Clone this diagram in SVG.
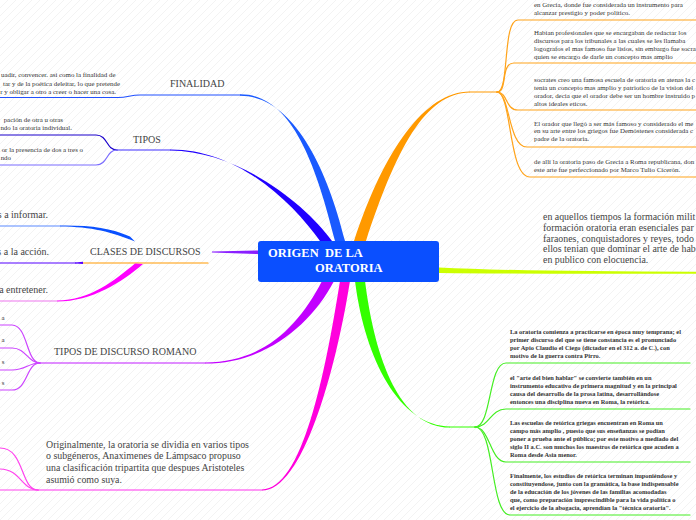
<svg xmlns="http://www.w3.org/2000/svg" width="696" height="520" viewBox="0 0 696 520">
<defs>
<pattern id="stripes" patternUnits="userSpaceOnUse" width="8" height="8">
<path d="M-1,1 L1,-1 M0,8 L8,0 M7,9 L9,7" stroke="#eeeeee" stroke-width="0.7"/>
</pattern>
<style>
.lbl{font-family:"Liberation Serif","Times New Roman",serif;font-size:10px;fill:#444;}
.big{font-family:"Liberation Serif","Times New Roman",serif;font-size:9.9px;fill:#444;}
.sm{font-family:"Liberation Serif","Times New Roman",serif;font-size:6.9px;fill:#333;}
.smb{font-family:"Liberation Serif","Times New Roman",serif;font-size:6.4px;fill:#333;font-weight:bold;}
.ctr{font-family:"Liberation Serif","Times New Roman",serif;font-size:12.5px;fill:#ffffff;font-weight:bold;white-space:pre;}
.ln{fill:none;stroke-width:1.2;stroke-linecap:round;}
</style>
</defs>
<rect width="696" height="520" fill="#ffffff"/>
<rect width="696" height="520" fill="url(#stripes)"/>

<g id="connectors">
<!-- FINALIDAD -->
<path d="M335,241 C315,160 290,94 240,94.3 L240,95.7 C290,96 325,160 345,241 Z" fill="#1a5aff"/>
<path class="ln" d="M240,95 L140,95 C130,95 128,97.5 118,97.5 L0,97.5" stroke="#2050ff" stroke-width="1.3"/>
<!-- TIPOS -->
<path d="M320,241 C294,205 240,149 170,149.4 L170,150.6 C240,151 306,205 332,241 Z" fill="#2000ff"/>
<path class="ln" d="M170,150 L117,150" stroke="#4030ff" stroke-width="1.3"/>
<path class="ln" d="M117,150 C106,150 108,135 96,135 L0,135" stroke="#1a00cc"/>
<path class="ln" d="M117,150 C106,150 108,165 96,165 L0,165" stroke="#7a6cff"/>
<!-- ORANGE -->
<path d="M354,241 C384,150 425,91.3 470,91.4 L470,92.6 C425,92.7 396,150 366,241 Z" fill="#ff9900"/>
<path class="ln" d="M470,92 L497,92" stroke="#ff9900" stroke-width="1.3"/>
<path class="ln" d="M497,92 C510,92 502,20 518,20 L696,20" stroke="#ffa31a"/>
<path class="ln" d="M497,92 C508,92 500,63 514,63 L696,63" stroke="#ffa31a"/>
<path class="ln" d="M497,92 C508,92 505,110 518,110 L696,110" stroke="#ffa31a"/>
<path class="ln" d="M497,92 C510,92 508,147 527,147 L696,147" stroke="#ffa31a"/>
<path class="ln" d="M497,92 C512,92 508,177 530,177 L696,177" stroke="#ffa31a"/>
<!-- YELLOW-GREEN -->
<path d="M439,267.5 Q520,271.5 696,271.8 L696,273.8 Q520,274 439,273 Z" fill="#ccff00"/>
<!-- CLASES DE DISCURSOS -->
<path d="M258,250.5 L212,251.6 L212,252.6 L258,254 Z" fill="#8a1fff"/>
<path class="ln" d="M83,263 L208,263" stroke="#ff9900"/>
<path d="M60,225.6 C90,225.2 110,228 130,236.5 L135,241.5 C112,232 92,226.6 60,226.4 Z" fill="#0a50ff"/>
<path class="ln" d="M60,226 L0,226" stroke="#5a8aff"/>
<path class="ln" d="M0,263 L76,263" stroke="#5500ff"/>
<path d="M75,262.4 L83,261.8 L83,264 L75,263.6 Z" fill="#5500ff"/>
<path d="M135,263.5 C115,280 90,300.5 57,300.5 L57,301.5 C92,301.5 122,282 143,264 Z" fill="#ff00ff"/>
<path class="ln" d="M57,301 L0,301" stroke="#ee77ee"/>
<!-- TIPOS DE DISCURSO ROMANO -->
<path d="M322,281 C299,325 265,362.3 205,362.4 L205,363.6 C265,363.7 311,325 334,281 Z" fill="#c200ff"/>
<path class="ln" d="M205,363 L40,363" stroke="#c21cff" stroke-width="1.3"/>
<path class="ln" d="M40,363 C26,363 28,325 12,325 L0,325" stroke="#cc44ff"/>
<path class="ln" d="M40,363 C28,363 26,348 12,348 L0,348" stroke="#cc44ff"/>
<path class="ln" d="M40,363 C28,363 26,370 12,370 L0,370" stroke="#cc44ff"/>
<path class="ln" d="M40,363 C26,363 28,390 12,390 L0,390" stroke="#cc44ff"/>
<!-- MAGENTA -->
<path d="M340,281 C325,375 302,489.3 262,489.4 L262,490.6 C302,490.7 335,375 350,281 Z" fill="#ff00dd"/>
<path class="ln" d="M262,490 L38,490" stroke="#ff33ee" stroke-width="1.3"/>
<path class="ln" d="M38,490 C20,490 25,448 0,448" stroke="#ff44ee"/>
<path class="ln" d="M38,490 C22,490 20,469 0,469" stroke="#ff44ee"/>
<path class="ln" d="M38,490 L0,490" stroke="#ff44ee"/>
<!-- GREEN -->
<path d="M355,281 C365,360 400,426.3 450,426.4 L450,427.6 C400,427.7 375,360 365,281 Z" fill="#33ff00"/>
<path class="ln" d="M450,427 L475,427" stroke="#33ff00" stroke-width="1.3"/>
<path class="ln" d="M475,427 C492,427 488,363 506,363 L690,363" stroke="#44ee22"/>
<path class="ln" d="M475,427 C490,427 490,409 506,409 L690,409" stroke="#44ee22"/>
<path class="ln" d="M475,427 C490,427 490,462 506,462 L690,462" stroke="#44ee22"/>
<path class="ln" d="M475,427 C495,427 490,515 510,515 L690,515" stroke="#44ee22"/>
</g>

<g id="central">
<rect x="258" y="241" width="181" height="41" rx="3" fill="#0a4fff"/>
<text class="ctr" x="268" y="257">ORIGEN  DE LA</text>
<text class="ctr" x="315" y="272">ORATORIA</text>
</g>

<g id="finalidad">
<text class="lbl" x="170" y="86.5">FINALIDAD</text>
</g>
<g id="finalidad-text">
<text class="sm" text-anchor="end" x="115.5" y="77">uadir, convencer. asi como la finalidad de</text>
<text class="sm" text-anchor="end" x="120" y="85.5">tar y de la poética deleitar, lo que pretende</text>
<text class="sm" text-anchor="end" x="116" y="94">r y obligar a otro a creer o hacer una cosa.</text>
</g>

<g id="tipos">
<text class="lbl" x="133" y="142.5">TIPOS</text>
</g>
<g id="tipos-1">
<text class="sm" text-anchor="end" x="63" y="121.5">pación de otra u otras</text>
<text class="sm" text-anchor="end" x="72" y="130">ndo la oratoria individual.</text>
</g>
<g id="tipos-2">
<text class="sm" text-anchor="end" x="83" y="151.5">or la presencia de dos a tres o</text>
<text class="sm" text-anchor="end" x="11" y="160">ndo</text>
</g>

<g id="clases">
<text class="lbl" x="90" y="255">CLASES DE DISCURSOS</text>
</g>
<g id="clases-1"><text class="lbl" text-anchor="end" x="48" y="217.5">s a informar.</text></g>
<g id="clases-2"><text class="lbl" text-anchor="end" x="49" y="255">s a la acción.</text></g>
<g id="clases-3"><text class="lbl" text-anchor="end" x="48" y="293">a entretener.</text></g>

<g id="romano">
<text class="lbl" x="54" y="355">TIPOS DE DISCURSO ROMANO</text>
</g>
<g id="romano-1"><text class="sm" text-anchor="end" x="4.5" y="320">a</text></g>
<g id="romano-2"><text class="sm" text-anchor="end" x="4.5" y="342">a</text></g>
<g id="romano-3"><text class="sm" text-anchor="end" x="4.5" y="364">s</text></g>
<g id="romano-4"><text class="sm" text-anchor="end" x="4.5" y="385">s</text></g>

<g id="original">
<text class="big" x="46" y="447.5">Originalmente, la oratoria se dividia en varios tipos</text>
<text class="big" x="46" y="459.2">o subgéneros, Anaximenes de Lámpsaco propuso</text>
<text class="big" x="46" y="470.9">una clasificación tripartita que despues Aristoteles</text>
<text class="big" x="46" y="482.6">asumió como suya.</text>
</g>

<g id="formacion">
<text class="big" x="543" y="220">en aquellos tiempos la formación milit</text>
<text class="big" x="543" y="230.8">formación oratoria eran esenciales par</text>
<text class="big" x="543" y="241.6">faraones, conquistadores y reyes, todo</text>
<text class="big" x="543" y="252.4">ellos tenian que dominar el arte de hab</text>
<text class="big" x="543" y="263.2">en publico con elocuencia.</text>
</g>

<g id="grecia-1">
<text class="sm" x="534" y="6.5">en Grecia, donde fue considerada un instrumento para</text>
<text class="sm" x="534" y="14.5">alcanzar prestigio y poder político.</text>
</g>
<g id="grecia-2">
<text class="sm" x="534" y="35">Habian profesionales que se encargaban de redactar los</text>
<text class="sm" x="534" y="43">discursos para los tribunales a las cuales se les llamaba</text>
<text class="sm" x="534" y="51">logografos el mas famoso fue lisios, sin embargo fue socra</text>
<text class="sm" x="534" y="59">quien se encargo de darle un concepto mas amplio</text>
</g>
<g id="grecia-3">
<text class="sm" x="534" y="82">socrates creo una famosa escuela de oratoria en atenas la c</text>
<text class="sm" x="534" y="90">tenia un concepto mas amplio y patriotico de la vision del</text>
<text class="sm" x="534" y="98">orador, decia que el orador debe ser un hombre instruido p</text>
<text class="sm" x="534" y="106">altos ideales eticos.</text>
</g>
<g id="grecia-4">
<text class="sm" x="534" y="125.5">El orador que llegó a ser más famoso y considerado el me</text>
<text class="sm" x="534" y="133.3">en su arte  entre los griegos fue Demóstenes considerada c</text>
<text class="sm" x="534" y="141">padre de la oratoria.</text>
</g>
<g id="grecia-5">
<text class="sm" x="534" y="163.5">de allí la oratoria paso de Grecia a  Roma republicana, don</text>
<text class="sm" x="534" y="171.5">este arte fue perfeccionado por Marco Tulio Cicerón.</text>
</g>

<g id="roma-1">
<text class="smb" x="510" y="334">La oratoria comienza a practicarse en época muy temprana; el</text>
<text class="smb" x="510" y="342">primer discurso del que se tiene constancia es el pronunciado</text>
<text class="smb" x="510" y="350">por Apio Claudio el Ciego (dictador en el 312 a. de C.), con</text>
<text class="smb" x="510" y="358">motivo de la guerra contra Pirro.</text>
</g>
<g id="roma-2">
<text class="smb" x="510" y="380">el "arte del bien hablar" se convierte también en un</text>
<text class="smb" x="510" y="388">instrumento educativo de primera magnitud y en la principal</text>
<text class="smb" x="510" y="396">causa del desarrollo de la prosa latina, desarrollándose</text>
<text class="smb" x="510" y="404">entonces una disciplina nueva en Roma, la retórica.</text>
</g>
<g id="roma-3">
<text class="smb" x="510" y="425">Las escuelas de retórica griegas encuentran en Roma un</text>
<text class="smb" x="510" y="433">campo más amplio , puesto que sus enseñanzas se podían</text>
<text class="smb" x="510" y="441">poner a prueba ante el público; por este motivo a mediado del</text>
<text class="smb" x="510" y="449">siglo II a.C. son muchos los maestros de retórica que acuden a</text>
<text class="smb" x="510" y="457">Roma desde Asia menor.</text>
</g>
<g id="roma-4">
<text class="smb" x="510" y="478">Finalmente, los estudios de retórica terminan imponiéndose y</text>
<text class="smb" x="510" y="486">constituyendose, junto con la gramática, la base indispensable</text>
<text class="smb" x="510" y="494">de la educación de los jóvenes de las familias acomodadas</text>
<text class="smb" x="510" y="502">que, como preparación imprescindible para la vida política o</text>
<text class="smb" x="510" y="510">el ejercicio de la abogacía, aprendían la "técnica oratoria".</text>
</g>
</svg>
